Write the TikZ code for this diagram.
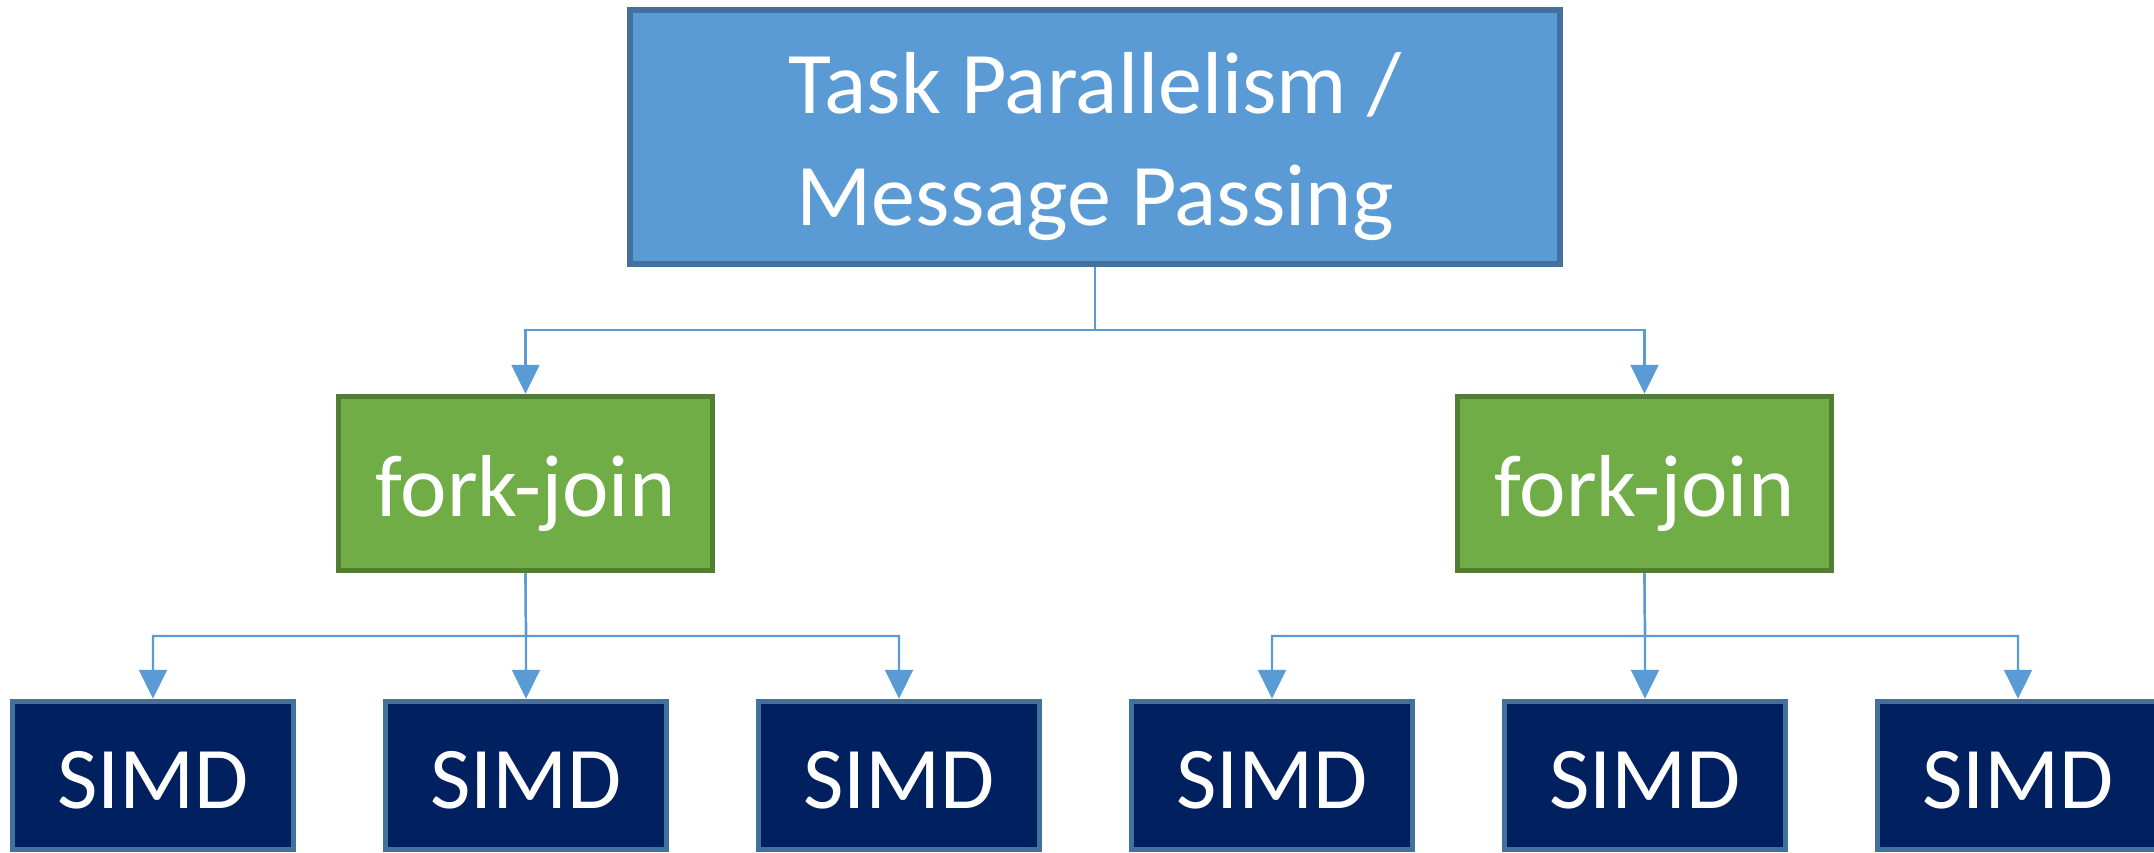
\documentclass[tikz,border=0pt]{standalone}
\usepackage{fontspec}
\setmainfont{Carlito}
\usetikzlibrary{arrows.meta}
\definecolor{topfill}{HTML}{5B9BD5}
\definecolor{topline}{HTML}{41719C}
\definecolor{fjfill}{HTML}{70AD47}
\definecolor{fjline}{HTML}{507E32}
\definecolor{simdfill}{HTML}{002060}
\definecolor{simdline}{HTML}{41719C}
\definecolor{connclr}{HTML}{5B9BD5}
\begin{document}
\begin{tikzpicture}[x=1pt,y=-1pt,
  box/.style={rectangle, line width=5.5pt, inner sep=0pt, text=white,
    align=center, font=\fontsize{88}{112}\selectfont,
    text height=65pt, text depth=0pt},
  topbox/.style={box, fill=topfill, draw=topline, minimum width=930pt,
    minimum height=254pt, text height=177pt},
  fjbox/.style={box, fill=fjfill, draw=fjline, minimum width=374pt, minimum height=174pt},
  simdbox/.style={box, fill=simdfill, draw=simdline, minimum width=281pt, minimum height=148pt},
  conn/.style={draw=connclr, line width=2.2pt,
    -{Triangle[length=29pt,width=28pt,fill=connclr]}}]
% canvas
\useasboundingbox (0,0) rectangle (2154,852);
\begin{scope}
\clip (0,0) rectangle (2154,852);
% nodes
\node[topbox] (top) at (1095,137) {Task Parallelism /\\Message Passing};
\node[fjbox] (fj1) at (525.5,483.5) {fork-join};
\node[fjbox] (fj2) at (1644.5,483.5) {fork-join};
\foreach \i/\x in {1/153,2/526,3/899,4/1272,5/1645,6/2018}{
  \node[simdbox] (s\i) at (\x,775.5) {SIMD};
}
% junction points
\coordinate (j0) at (1095,330);
\coordinate (j1) at (526,636);
\coordinate (j2) at (1645,636);
% connectors
\draw[conn] (top.south) -- (j0) -| (fj1.north);
\draw[conn] (j0) -| (fj2.north);
\foreach \s in {1,2,3}{
  \draw[conn] (fj1.south) -- (j1) -| (s\s.north);
}
\foreach \s in {4,5,6}{
  \draw[conn] (fj2.south) -- (j2) -| (s\s.north);
}
\end{scope}
\end{tikzpicture}
\end{document}
